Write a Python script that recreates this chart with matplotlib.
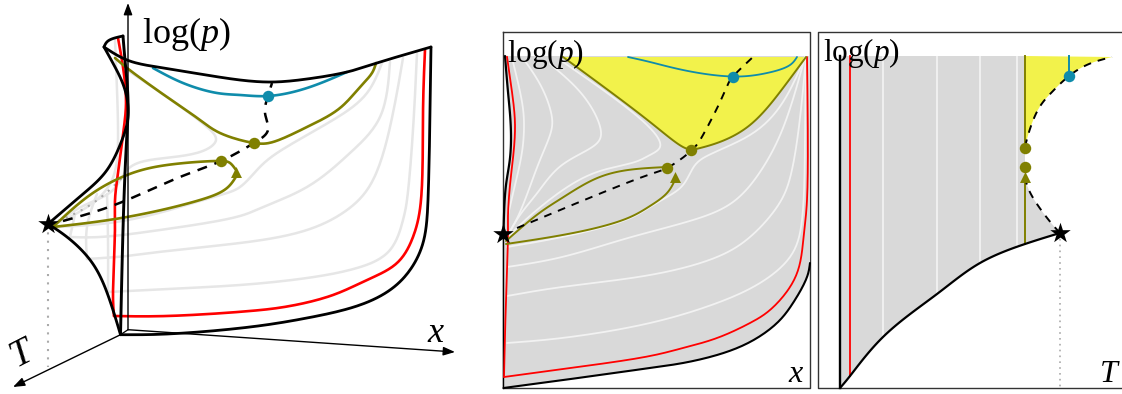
import numpy as np
import matplotlib
matplotlib.use("Agg")
import matplotlib.pyplot as plt
from matplotlib.patches import FancyArrowPatch

plt.rcParams["font.family"] = ["Liberation Serif"]
plt.rcParams["mathtext.fontset"] = "custom"
plt.rcParams["mathtext.rm"] = "Liberation Serif"
plt.rcParams["mathtext.it"] = "Liberation Serif:italic"

OLIVE = "#808000"
TEAL = "#0f8cab"
YELLOW = "#f2f24b"
GRAY = "#d9d9d9"
PALE = "#e6e6e6"
DOT = "#aaaaaa"

# ============================================================
# LEFT PANEL (3D SKETCH), read off in picture pixels
# ============================================================

box_right = [(431, 47), (430, 113), (428, 200), (423, 243), (410, 270), (390, 290),
             (357, 306), (307, 318), (250, 327), (167, 334), (120.5, 334.7)]
box_top = [(431, 47), (377, 63), (347, 72), (307, 79), (273, 82), (240, 80), (200, 74),
           (157, 67), (127, 60), (104, 47)]
box_curl = [(104, 47), (108, 41), (123, 36)]
box_front = [(123, 36), (125, 60), (128, 100), (127, 133), (125, 173), (123, 230), (120.5, 334.7)]
box_back = [(104, 47), (115, 67), (125, 90), (128, 117), (122, 140), (107, 170), (83, 194), (48, 224)]
box_low = [(48, 224), (67, 237), (93, 264), (110, 301), (120.5, 334.7)]

red_3d_left = [(118, 38), (123, 67), (126, 100), (124, 127), (118, 173), (115, 200), (115, 227),
               (113, 294), (114, 316)]
red_3d_right = [(114, 316), (167, 316), (250, 311), (290, 306), (333, 295), (367, 280),
                (397, 263), (413, 237), (421, 200), (423, 113), (425, 50)]

pale_3d = [
    [(417, 53), (413, 130), (407, 200), (403, 220), (390, 250), (357, 268), (307, 278),
     (240, 285), (167, 289), (108, 292)],
    [(403, 58), (393, 113), (373, 180), (347, 210), (307, 230), (240, 243), (167, 251),
     (127, 256), (87, 259)],
    [(390, 62), (380, 117), (350, 153), (307, 187), (263, 207), (240, 216), (167, 229),
     (100, 237), (70, 237)],
    [(382, 63), (367, 93), (333, 120), (277, 153), (257, 170), (240, 187), (217, 196),
     (133, 219), (57, 227)],
    [(127, 70), (167, 97), (207, 127), (216, 140), (200, 152), (150, 160), (127, 170),
     (113, 190), (85, 205), (55, 224)],
    [(115, 40), (117, 90), (118, 140), (112, 180), (90, 205), (60, 222)],
    [(108, 292), (108, 240), (107, 194)],
    [(87, 259), (87, 227), (97, 194)],
    [(70, 237), (75, 214)],
]

dotted_3d = [(58, 221), (78, 212), (100, 198), (122, 178)]
t_drop = [(48, 224), (48, 367)]

olive_v_3d = [(115, 58), (127, 68), (167, 97), (200, 120), (220, 133), (254, 143), (273, 142),
              (307, 127), (340, 108), (360, 87), (372, 73), (376, 63)]
olive_up_3d = [(53, 227), (90, 195), (127, 175), (167, 165), (221, 161), (230, 163), (236, 170)]
olive_low_3d = [(53, 227), (127, 217), (200, 200), (227, 188), (237, 175)]
teal_3d = [(153, 68), (183, 83), (217, 93), (240, 95), (268, 96), (307, 88), (347, 72)]
spine_3d = [(63, 221), (117, 204), (180, 177), (221, 161), (254, 143), (268, 130), (265, 113),
            (268, 96), (272, 83)]

# ============================================================
# MIDDLE PANEL (log p against x)
# ============================================================

mid_left = [(505, 56), (508, 92), (510.7, 125), (510, 158), (506, 185), (504, 215), (503.5, 234)]
mid_bottom = [(503.5, 388), (578, 378), (650, 368), (683, 363), (717, 355), (750, 342),
              (777, 323), (793, 303), (807, 277), (810, 263)]
mid_red_left = [(507, 56.7), (512, 92), (515, 125), (513, 158), (510, 185), (508, 215), (508, 233),
                (506, 300), (504, 377)]
mid_red_right = [(504, 377), (578, 367), (650, 356), (683, 348), (717, 338), (750, 323),
                 (770, 310), (790, 287), (800, 263), (804, 233), (807, 200), (807, 57)]

mid_white = [
    [(512, 58), (522, 102), (524, 125), (522, 152), (515, 185), (508, 215)],
    [(525, 61), (542, 88), (552, 118), (550, 135), (538, 165), (520, 212), (505, 240)],
    [(550, 64), (585, 98), (601, 132), (595, 145), (562, 165), (538, 192), (520, 215), (505, 240)],
    [(563, 62), (650, 128), (660, 147), (650, 155), (635, 162), (600, 171), (560, 192),
     (520, 225), (505, 241)],
    [(507, 247), (562, 237), (628, 219), (650, 207), (667, 197), (683, 185), (693, 168),
     (705, 157), (750, 135), (783, 102), (805, 57)],
    [(507, 267), (562, 257), (628, 238), (693, 220), (733, 202), (760, 172), (783, 128), (805, 57)],
    [(507, 296), (562, 287), (650, 275), (717, 257), (750, 237), (777, 207), (790, 178),
     (800, 118), (806, 57)],
    [(507, 343), (562, 338), (650, 323), (717, 303), (760, 283), (790, 257), (802, 220),
     (805, 125), (806, 57)],
]

mid_olive_left = [(563, 57), (650, 122), (683, 147), (692, 150)]
mid_olive_right = [(692, 150), (717, 143), (750, 125), (783, 88), (806, 57)]
mid_olive_up = [(506, 241), (538, 214), (562, 198), (595, 179), (628, 170), (667, 167)]
mid_olive_low = [(506, 244), (578, 232), (628, 218), (650, 206), (667, 193), (675, 180)]
mid_teal = [(628, 57), (650, 62), (683, 70), (733, 76.5), (767, 73), (790, 65), (797, 57)]
mid_spine = [(517, 228), (648, 175), (667, 168), (692, 150), (703, 135), (720, 102), (728, 84),
             (733, 76.5), (753, 57)]

# ============================================================
# RIGHT PANEL (log p against T)
# ============================================================

t_white = [883, 937, 980, 1017]
t_white_end = [337, 294, 263, 246]
t_bottom = [(840, 388), (850, 376), (883, 337), (937, 294), (980, 263), (1025, 244), (1060, 233)]
t_spine_low = [(1060, 233), (1052, 224), (1039, 207), (1027, 185), (1025, 168)]
t_spine_up = [(1025, 147), (1029, 132), (1039, 108), (1052, 92), (1069, 76), (1089, 64), (1112, 57)]
t_olive_x = 1025
t_red_x = 850
t_teal_x = 1069

dots_olive = [(221, 161), (254, 143), (667, 167.5), (691.5, 150), (1025, 147.5), (1025, 167)]
dots_teal = [(268, 96), (733, 76.5), (1069, 76)]
stars = [(48, 224), (503, 234), (1060, 233)]
arrow_heads = [(236, 172), (675, 177), (1025, 177)]


def smooth(pts, n=16):
    # natural cubic spline through the read-off points, parametrised on sqrt of chord length
    p = np.array(pts, dtype=float)
    h = np.hypot(*np.diff(p, axis=0).T) ** 0.5
    m = len(p)
    A = np.zeros((m, m))
    b = np.zeros((m, 2))
    A[0, 0] = A[-1, -1] = 1
    for i in range(1, m - 1):
        A[i, i - 1:i + 2] = h[i - 1], 2 * (h[i - 1] + h[i]), h[i]
        b[i] = 6 * ((p[i + 1] - p[i]) / h[i] - (p[i] - p[i - 1]) / h[i - 1])
    c = np.linalg.solve(A, b)
    out = []
    for i in range(m - 1):
        t = np.linspace(0, h[i], n, endpoint=False)[:, None]
        r = h[i] - t
        out.append((c[i] * r ** 3 + c[i + 1] * t ** 3) / (6 * h[i])
                   + (p[i] / h[i] - c[i] * h[i] / 6) * r
                   + (p[i + 1] / h[i] - c[i + 1] * h[i] / 6) * t)
    out.append(p[-1:])
    return np.vstack(out)


def curve(pts, color="black", lw=1.8, z=5, **kw):
    s = smooth(pts)
    ax.plot(s[:, 0], s[:, 1], color=color, lw=lw, zorder=z, solid_capstyle="round", **kw)


def arrow(a, b, z=6):
    ax.add_patch(FancyArrowPatch(a, b, arrowstyle="-|>,head_length=7,head_width=2.6", mutation_scale=1,
                                 lw=1.0, color="black", zorder=z, shrinkA=0, shrinkB=0))


fig = plt.figure(figsize=(11.22, 3.94), dpi=100)
ax = fig.add_axes([0, 0, 1, 1])
ax.set_xlim(0, 1122)
ax.set_ylim(394, 0)
ax.axis("off")

# ------------------------------------------------------------
# left panel
# ------------------------------------------------------------

for line in pale_3d:
    curve(line, color=PALE, lw=1.8, z=2)
s = smooth(dotted_3d)
ax.plot(s[:, 0], s[:, 1], color=DOT, lw=1.5, ls=(0, (1, 3)), zorder=2)
ax.plot(*zip(*t_drop), color=DOT, lw=1.5, ls=(0, (1, 3)), zorder=2)

curve(red_3d_left, color="red", lw=1.9, z=4)
curve(red_3d_right, color="red", lw=1.9, z=4)
curve(teal_3d, color=TEAL, lw=1.9, z=4)
curve(olive_v_3d, color=OLIVE, lw=1.9, z=4)
curve(olive_up_3d, color=OLIVE, lw=1.9, z=4)
curve(olive_low_3d, color=OLIVE, lw=1.9, z=4)
s = smooth(spine_3d)
ax.plot(s[:, 0], s[:, 1], color="black", lw=1.8, ls=(0, (4, 3.2)), zorder=5)

for line in [box_right, box_top, box_back, box_low, box_curl]:
    curve(line, lw=2.0)
curve(box_front, lw=2.1, z=5)

# thin axes
ax.plot([120.5, 128], [334.7, 329.7], color="black", lw=0.9, zorder=6)
arrow((128, 329.7), (128, 3))
arrow((128, 329.7), (455, 352))
arrow((120.5, 334.7), (13, 387))

# ------------------------------------------------------------
# middle panel
# ------------------------------------------------------------

ax.plot([503.5, 810, 810, 503.5, 503.5], [31.5, 31.5, 388, 388, 31.5], color="#333333", lw=1.0, zorder=1)

fill_mid = np.vstack([smooth(mid_left), smooth(mid_bottom), [(810, 56)]])
ax.fill(fill_mid[:, 0], fill_mid[:, 1], color=GRAY, lw=0, zorder=1.2)
v = np.vstack([smooth(mid_olive_left), smooth(mid_olive_right)])
ax.fill(v[:, 0], v[:, 1], color=YELLOW, lw=0, zorder=1.4)

for line in mid_white:
    curve(line, color="#f2f2f2", lw=1.3, z=2)
curve(mid_left, lw=1.6, z=3)
curve(mid_bottom, lw=1.5, z=3)
ax.plot([503.5, 503.5], [234, 388], color="black", lw=1.0, zorder=3)
curve(mid_red_left, color="red", lw=1.3, z=4)
curve(mid_red_right, color="red", lw=1.3, z=4)
curve(mid_teal, color=TEAL, lw=1.3, z=4)
curve(mid_olive_left, color=OLIVE, lw=1.4, z=4)
curve(mid_olive_right, color=OLIVE, lw=1.4, z=4)
curve(mid_olive_up, color=OLIVE, lw=1.4, z=4)
curve(mid_olive_low, color=OLIVE, lw=1.4, z=4)
s = smooth(mid_spine)
ax.plot(s[:, 0], s[:, 1], color="black", lw=1.4, ls=(0, (4, 3.6)), zorder=5)

# ------------------------------------------------------------
# right panel
# ------------------------------------------------------------

ax.plot([1122, 818, 818, 1122], [31.5, 31.5, 388, 388], color="#333333", lw=1.0, zorder=1)

low = smooth(t_bottom)
up = smooth(t_spine_low)
fill_t = np.vstack([[(840, 56), (1025, 56)], up[::-1], low[::-1]])
ax.fill(fill_t[:, 0], fill_t[:, 1], color=GRAY, lw=0, zorder=1.2)
sp = smooth(t_spine_up)
fill_y = np.vstack([[(1025, 56)], sp])
ax.fill(fill_y[:, 0], fill_y[:, 1], color=YELLOW, lw=0, zorder=1.4)

ax.vlines(t_white, 56, t_white_end, color="#f2f2f2", lw=1.3, zorder=2)
ax.plot([840, 840], [56, 388], color="black", lw=1.7, zorder=3)
ax.plot([t_red_x, t_red_x], [56, 376], color="red", lw=1.3, zorder=4)
ax.plot([t_olive_x, t_olive_x], [56, 147], color=OLIVE, lw=1.4, zorder=4)
ax.plot([t_olive_x, t_olive_x], [178, 244], color=OLIVE, lw=1.4, zorder=4)
ax.plot([t_teal_x, t_teal_x], [56, 76], color=TEAL, lw=1.4, zorder=4)
curve(t_bottom, lw=1.6, z=5)
ax.plot(up[:, 0], up[:, 1], color="black", lw=1.4, ls=(0, (4, 3.6)), zorder=5)
ax.plot(sp[:, 0], sp[:, 1], color="black", lw=1.4, ls=(0, (4, 3.6)), zorder=5)
ax.plot([1060, 1060], [233, 388], color=DOT, lw=1.2, ls=(0, (1, 2.5)), zorder=2)

# ------------------------------------------------------------
# markers and labels
# ------------------------------------------------------------

ax.scatter(*zip(*dots_olive), s=68, color=OLIVE, lw=0, zorder=7)
ax.scatter(*zip(*dots_teal), s=68, color=TEAL, lw=0, zorder=7)
ax.scatter(*zip(*arrow_heads), s=62, marker="^", color=OLIVE, lw=0, zorder=6)
ax.scatter(*zip(*stars), s=240, marker="*", color="black", lw=0, zorder=8)

ax.text(142, 29, r"log($p$)", fontsize=26, ha="left", va="center_baseline", zorder=9)
ax.text(507, 49, r"log($p$)", fontsize=22.5, ha="left", va="center_baseline", zorder=9)
ax.text(823, 48, r"log($p$)", fontsize=22.5, ha="left", va="center_baseline", zorder=9)
ax.text(435, 333, "x", fontsize=26, style="italic", ha="center", va="center", zorder=9)
ax.text(796, 374, "x", fontsize=23, style="italic", ha="center", va="center", zorder=9)
ax.text(1109, 374, "T", fontsize=23, style="italic", ha="center", va="center", zorder=9)
ax.text(22, 354, "T", fontsize=27, style="italic", rotation=27, ha="center", va="center", zorder=9)

fig.savefig("out.png", dpi=100)
